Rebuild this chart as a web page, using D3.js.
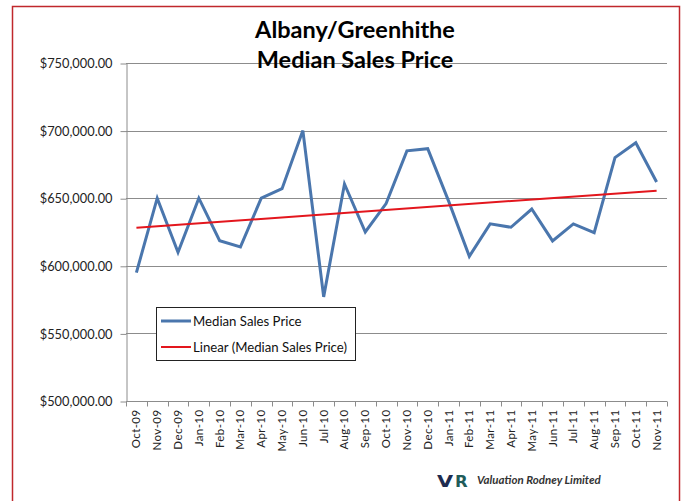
<!DOCTYPE html>
<html>
<head>
<meta charset="utf-8">
<script src="https://cdn.jsdelivr.net/npm/d3@7/dist/d3.min.js"></script>
<style>
  html, body { margin: 0; padding: 0; background: #fff; }
  svg { display: block; }
</style>
</head>
<body>
<svg id="chart" width="685" height="501"></svg>
<script>
const categories = ["Oct-09","Nov-09","Dec-09","Jan-10","Feb-10","Mar-10","Apr-10","May-10","Jun-10","Jul-10","Aug-10","Sep-10","Oct-10","Nov-10","Dec-10","Jan-11","Feb-11","Mar-11","Apr-11","May-11","Jun-11","Jul-11","Aug-11","Sep-11","Oct-11","Nov-11"];
const medianPrice = [595000,650000,610000,650000,618600,614000,650000,657000,700000,577000,660500,625000,646000,685000,686600,648000,607000,631000,628500,642000,618400,631000,624500,680000,691000,662000];
const yTicks = [500000,550000,600000,650000,700000,750000];
const titleLines = ["Albany/Greenhithe","Median Sales Price"];
const legendLabels = ["Median Sales Price","Linear (Median Sales Price)"];

const svg = d3.select("#chart");
const m = {left: 126, right: 667, top: 63, bottom: 401};
const FONT = "Lato, 'Open Sans', sans-serif";

// outer red border
svg.append("rect").attr("x", 12.5).attr("y", 6.5).attr("width", 667).attr("height", 510)
  .attr("fill", "none").attr("stroke", "#c0282c").attr("stroke-width", 1.5);

const x = d3.scaleBand().domain(categories).range([m.left, m.right]);
const y = d3.scaleLinear().domain([500000, 750000]).range([m.bottom, m.top]);

// gridlines
svg.append("g").selectAll("line").data(yTicks.filter(d => d > 500000)).join("line")
  .attr("x1", m.left).attr("x2", m.right)
  .attr("y1", d => Math.round(y(d)) + 0.5).attr("y2", d => Math.round(y(d)) + 0.5)
  .attr("stroke", "#8c8c8c").attr("stroke-width", 1);

// y axis
const fmt = d => "$" + d3.format(",.2f")(d);
const yAxis = svg.append("g").attr("transform", `translate(${m.left + 0.5},0.5)`)
  .call(d3.axisLeft(y).tickValues(yTicks).tickFormat(fmt).tickSizeOuter(0).tickSizeInner(6).tickPadding(8));
yAxis.select(".domain").attr("stroke", "#8c8c8c");
yAxis.selectAll(".tick line").attr("stroke", "#8c8c8c");
yAxis.selectAll("text").attr("font-family", FONT).attr("font-size", 12.8).attr("fill", "#222");

// x axis
const xAxisG = svg.append("g").attr("transform", `translate(0,${m.bottom + 0.5})`);
xAxisG.append("line").attr("x1", m.left).attr("x2", m.right).attr("stroke", "#8c8c8c");
const bounds = d3.range(categories.length + 1).map(i => m.left + i * x.step());
xAxisG.selectAll("line.tk").data(bounds).join("line").attr("class", "tk")
  .attr("x1", d => Math.round(d) + 0.5).attr("x2", d => Math.round(d) + 0.5)
  .attr("y1", 0).attr("y2", 5).attr("stroke", "#8c8c8c");
xAxisG.selectAll("text").data(categories).join("text")
  .attr("transform", d => `translate(${x(d) + x.bandwidth() / 2 + 4},8) rotate(-90)`)
  .attr("text-anchor", "end")
  .attr("font-family", FONT).attr("font-size", 11.5).attr("letter-spacing", 0.4).attr("fill", "#222")
  .text(d => d);

// data line
const cx = d => x(d) + x.bandwidth() / 2;
const line = d3.line().x((d, i) => cx(categories[i])).y(d => y(d));
svg.append("path").datum(medianPrice).attr("d", line)
  .attr("fill", "none").attr("stroke", "#4a76ad").attr("stroke-width", 3).attr("stroke-linejoin", "miter");

// linear trend (least squares)
const n = medianPrice.length;
const xs = d3.range(n);
const mx = d3.mean(xs), my = d3.mean(medianPrice);
const slope = d3.sum(xs, i => (i - mx) * (medianPrice[i] - my)) / d3.sum(xs, i => (i - mx) ** 2);
const icpt = my - slope * mx;
svg.append("line")
  .attr("x1", cx(categories[0])).attr("y1", y(icpt))
  .attr("x2", cx(categories[n - 1])).attr("y2", y(icpt + slope * (n - 1)))
  .attr("stroke", "#e3161d").attr("stroke-width", 2);

// title
const t = svg.append("text").attr("text-anchor", "middle")
  .attr("font-family", FONT).attr("font-weight", "bold")
  .attr("font-size", 23.5).attr("fill", "#000");
t.append("tspan").attr("x", 355).attr("y", 38).text(titleLines[0]);
t.append("tspan").attr("x", 355).attr("y", 68).text(titleLines[1]);

// legend
const lg = svg.append("g");
lg.append("rect").attr("x", 156.5).attr("y", 307.5).attr("width", 199).attr("height", 53)
  .attr("fill", "#fff").attr("stroke", "#222").attr("stroke-width", 1);
const lcol = ["#4a76ad", "#e3161d"], lw = [3, 2];
legendLabels.forEach((lab, i) => {
  const yy = 321 + i * 26;
  lg.append("line").attr("x1", 161).attr("x2", 191).attr("y1", yy).attr("y2", yy)
    .attr("stroke", lcol[i]).attr("stroke-width", lw[i]);
  lg.append("text").attr("x", 193).attr("y", yy + 4.5)
    .attr("font-family", FONT).attr("font-size", 13.2).attr("fill", "#111")
    .text(lab);
});

// logo
const logo = svg.append("g");
logo.append("text").attr("transform", "translate(437,487) scale(1.3,1)")
  .attr("font-family", "'DejaVu Sans', sans-serif").attr("font-weight", "bold").attr("font-size", 16)
  .attr("fill", "#1d2b4f").text("V");
logo.append("text").attr("transform", "translate(455,487) scale(1.1,1)")
  .attr("font-family", "'DejaVu Sans', sans-serif").attr("font-weight", "bold").attr("font-size", 15)
  .attr("fill", "#1f5c5a").text("R");
logo.append("text").attr("x", 477).attr("y", 484)
  .attr("font-family", FONT).attr("font-weight", "bold").attr("font-style", "italic")
  .attr("font-size", 11.5).attr("fill", "#333").text("Valuation Rodney Limited");
</script>
</body>
</html>
